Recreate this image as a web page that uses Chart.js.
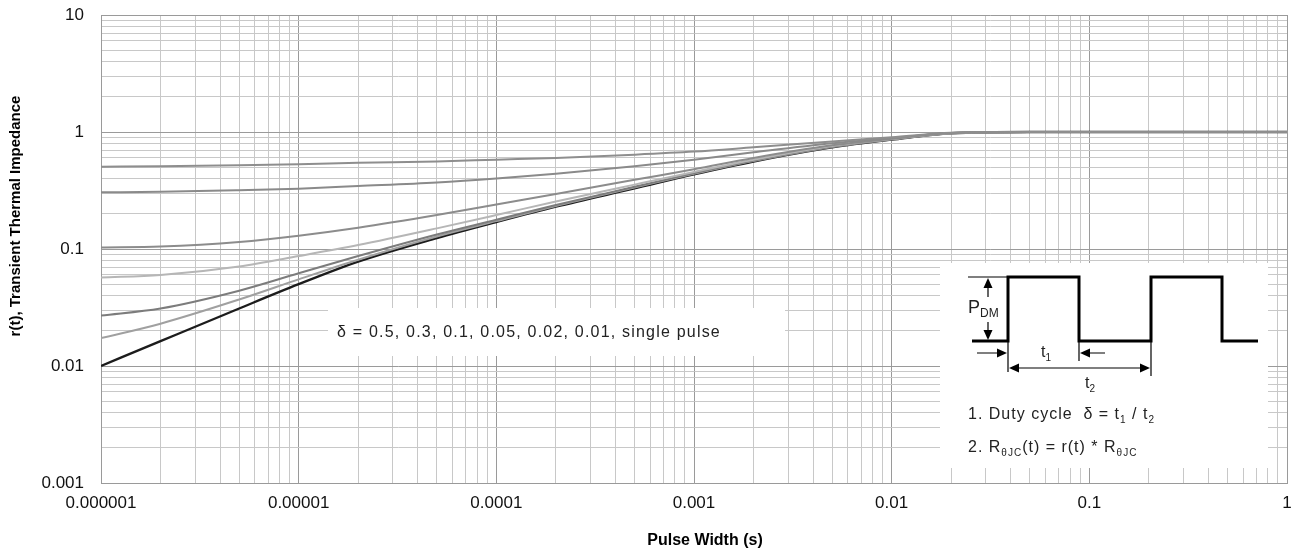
<!DOCTYPE html>
<html>
<head>
<meta charset="utf-8">
<script src="https://cdn.jsdelivr.net/npm/chart.js@4.4.1/dist/chart.umd.min.js"></script>
<style>
  html, body { margin: 0; padding: 0; background: #fff; }
  #wrap { width: 1298px; height: 554px; position: relative; }
</style>
</head>
<body>
<div id="wrap"><canvas id="zth"></canvas></div>
<script>
// Pulse width (s) sample points
const pulseWidth = [1e-6, 2e-6, 5e-6, 1e-5, 2e-5, 5e-5, 1e-4, 2e-4, 5e-4, 1e-3, 2e-3, 5e-3, 1e-2, 2e-2, 5e-2, 1e-1, 1];

// r(t) per duty cycle
const duty05   = [0.505, 0.51, 0.52, 0.53, 0.545, 0.56, 0.58, 0.60, 0.64, 0.68, 0.74, 0.83, 0.90, 0.985, 1, 1, 1];
const duty03   = [0.305, 0.308, 0.318, 0.328, 0.345, 0.37, 0.40, 0.44, 0.51, 0.58, 0.67, 0.80, 0.885, 0.982, 1, 1, 1];
const duty01   = [0.103, 0.105, 0.115, 0.13, 0.152, 0.195, 0.24, 0.295, 0.39, 0.48, 0.60, 0.77, 0.875, 0.98, 1, 1, 1];
const duty005  = [0.057, 0.06, 0.071, 0.087, 0.108, 0.15, 0.195, 0.255, 0.355, 0.455, 0.58, 0.76, 0.87, 0.978, 1, 1, 1];
const duty002  = [0.027, 0.031, 0.044, 0.062, 0.087, 0.133, 0.178, 0.238, 0.34, 0.445, 0.57, 0.75, 0.865, 0.977, 1, 1, 1];
const duty001  = [0.0173, 0.023, 0.037, 0.055, 0.081, 0.128, 0.173, 0.233, 0.335, 0.44, 0.565, 0.745, 0.865, 0.977, 1, 1, 1];
const single   = [0.01, 0.0163, 0.031, 0.05, 0.078, 0.124, 0.17, 0.23, 0.33, 0.435, 0.56, 0.74, 0.86, 0.975, 1, 1, 1];

// tick labels, one per decade
const xTickLabels = ['0.000001', '0.00001', '0.0001', '0.001', '0.01', '0.1', '1'];
const yTickLabels = ['0.001', '0.01', '0.1', '1', '10'];

const xTitle = 'Pulse Width (s)';
const yTitle = 'r(t), Transient Thermal Impedance';
const noteText = 'δ = 0.5, 0.3, 0.1, 0.05, 0.02, 0.01, single pulse';

const series = [
  { label: 'δ = 0.5', data: duty05, color: '#8e8e8e' },
  { label: 'δ = 0.3', data: duty03, color: '#8a8a8a' },
  { label: 'δ = 0.1', data: duty01, color: '#8c8c8c' },
  { label: 'δ = 0.05', data: duty005, color: '#b6b6b6' },
  { label: 'δ = 0.02', data: duty002, color: '#7c7c7c' },
  { label: 'δ = 0.01', data: duty001, color: '#a0a0a0' },
  { label: 'single pulse', data: single, color: '#1c1c1c' }
];

const FONT = '"Liberation Sans", Arial, sans-serif';

function isDecade(v) {
  const e = Math.log10(v);
  return Math.abs(e - Math.round(e)) < 1e-6;
}

// 1..9 per decade, for the grid
function decadeTicks(minExp, maxExp) {
  const out = [];
  for (let e = minExp; e < maxExp; e++) {
    for (let m = 1; m <= 9; m++) out.push({ value: m * Math.pow(10, e) });
  }
  out.push({ value: Math.pow(10, maxExp) });
  return out;
}

// text with subscripts: parts = [[text, isSub], ...]
function richText(ctx, parts, x, y, size) {
  let cx = x;
  parts.forEach(([txt, sub]) => {
    ctx.font = (sub ? Math.round(size * 0.65) : size) + 'px ' + FONT;
    ctx.fillText(txt, cx, sub ? y + size * 0.3 : y);
    cx += ctx.measureText(txt).width;
  });
}

function arrowHead(ctx, x, y, dir) {
  // tip at x,y
  const L = 10, W = 4.5;
  ctx.beginPath();
  ctx.moveTo(x, y);
  if (dir === 'up') { ctx.lineTo(x - W, y + L); ctx.lineTo(x + W, y + L); }
  if (dir === 'down') { ctx.lineTo(x - W, y - L); ctx.lineTo(x + W, y - L); }
  if (dir === 'left') { ctx.lineTo(x + L, y - W); ctx.lineTo(x + L, y + W); }
  if (dir === 'right') { ctx.lineTo(x - L, y - W); ctx.lineTo(x - L, y + W); }
  ctx.closePath();
  ctx.fill();
}

// white label boxes and the duty cycle inset
const noteBox = { x: 328, y: 308, w: 457, h: 48 };
const inset = { x: 940, y: 263, w: 328, h: 205 };

const overlay = {
  id: 'overlay',
  beforeDatasetsDraw(chart) {
    const ctx = chart.ctx;
    ctx.save();
    ctx.fillStyle = '#fff';
    ctx.fillRect(noteBox.x, noteBox.y, noteBox.w, noteBox.h);
    ctx.fillRect(inset.x, inset.y, inset.w, inset.h);
    ctx.restore();
  },
  afterDraw(chart) {
    const ctx = chart.ctx;
    ctx.save();
    ctx.fillStyle = '#222';
    ctx.textBaseline = 'middle';
    ctx.textAlign = 'left';

    // curve note
    ctx.font = '16px ' + FONT;
    ctx.letterSpacing = '1.2px';
    ctx.fillText(noteText, 337, 333);

    // axis titles
    ctx.letterSpacing = '0px';
    ctx.fillStyle = '#000';
    ctx.font = 'bold 16px ' + FONT;
    ctx.textAlign = 'center';
    ctx.fillText(xTitle, 705, 541);
    ctx.save();
    ctx.translate(16, 216);
    ctx.rotate(-Math.PI / 2);
    ctx.font = 'bold 15px ' + FONT;
    ctx.fillText(yTitle, 0, 0);
    ctx.restore();

    // inset waveform
    const ox = inset.x, oy = 264;
    const low = oy + 77, high = oy + 13;
    ctx.strokeStyle = '#000';
    ctx.fillStyle = '#000';
    ctx.lineWidth = 3;
    ctx.lineJoin = 'miter';
    ctx.beginPath();
    ctx.moveTo(ox + 32, low);
    ctx.lineTo(ox + 68, low);
    ctx.lineTo(ox + 68, high);
    ctx.lineTo(ox + 139, high);
    ctx.lineTo(ox + 139, low);
    ctx.lineTo(ox + 211, low);
    ctx.lineTo(ox + 211, high);
    ctx.lineTo(ox + 282, high);
    ctx.lineTo(ox + 282, low);
    ctx.lineTo(ox + 318, low);
    ctx.stroke();

    ctx.lineWidth = 1.2;
    ctx.beginPath();
    ctx.moveTo(ox + 28, high); ctx.lineTo(ox + 68, high);
    // P_DM arrow shafts
    ctx.moveTo(ox + 48, high + 8); ctx.lineTo(ox + 48, oy + 33);
    ctx.moveTo(ox + 48, oy + 58); ctx.lineTo(ox + 48, low - 8);
    // extension lines
    ctx.moveTo(ox + 68, low); ctx.lineTo(ox + 68, oy + 108);
    ctx.moveTo(ox + 139, low); ctx.lineTo(ox + 139, oy + 97);
    ctx.moveTo(ox + 211, low); ctx.lineTo(ox + 211, oy + 112);
    // t1 arrows
    ctx.moveTo(ox + 37, oy + 89); ctx.lineTo(ox + 60, oy + 89);
    ctx.moveTo(ox + 147, oy + 89); ctx.lineTo(ox + 165, oy + 89);
    // t2 arrow
    ctx.moveTo(ox + 76, oy + 104); ctx.lineTo(ox + 203, oy + 104);
    ctx.stroke();
    arrowHead(ctx, ox + 48, high + 1, 'up');
    arrowHead(ctx, ox + 48, low - 1, 'down');
    arrowHead(ctx, ox + 67, oy + 89, 'right');
    arrowHead(ctx, ox + 140, oy + 89, 'left');
    arrowHead(ctx, ox + 69, oy + 104, 'left');
    arrowHead(ctx, ox + 210, oy + 104, 'right');

    ctx.fillStyle = '#222';
    ctx.textAlign = 'left';
    ctx.letterSpacing = '0px';
    richText(ctx, [['P', false], ['DM', true]], ox + 28, oy + 44, 18);
    richText(ctx, [['t', false], ['1', true]], ox + 101, oy + 89, 16);
    richText(ctx, [['t', false], ['2', true]], ox + 145, oy + 120, 16);

    ctx.letterSpacing = '1px';
    richText(ctx, [['1. Duty cycle  δ = t', false], ['1', true], [' / t', false], ['2', true]], ox + 28, oy + 151, 16);
    richText(ctx, [['2. R', false], ['θJC', true], ['(t) = r(t) * R', false], ['θJC', true]], ox + 28, oy + 184, 16);
    ctx.restore();
  }
};

const datasets = series.map(s => ({
  label: s.label,
  data: pulseWidth.map((x, i) => ({ x: x, y: s.data[i] })),
  borderColor: s.color,
  backgroundColor: s.color,
  borderWidth: s.label === 'single pulse' ? 2.4 : 2,
  pointRadius: 0,
  cubicInterpolationMode: 'monotone',
  fill: false
}));

const gridColor = (c) => (c.tick && isDecade(c.tick.value)) ? '#9a9a9a' : '#c8c8c8';

new Chart(document.getElementById('zth'), {
  type: 'line',
  data: { datasets: datasets },
  options: {
    responsive: true,
    maintainAspectRatio: false,
    animation: false,
    layout: { padding: { left: 0, right: 11, top: 15, bottom: 0 } },
    plugins: { legend: { display: false }, tooltip: { enabled: false } },
    scales: {
      x: {
        type: 'logarithmic',
        min: 1e-6,
        max: 1,
        afterBuildTicks: (scale) => { scale.ticks = decadeTicks(-6, 0); },
        afterFit: (scale) => {
          scale.height = 71;
          scale.paddingLeft = 0;
          scale.paddingRight = 0;
        },
        grid: { color: gridColor, lineWidth: 1, drawTicks: false },
        border: { color: '#9a9a9a' },
        ticks: {
          autoSkip: false,
          maxRotation: 0,
          padding: 10,
          color: '#111',
          font: { family: FONT, size: 17 },
          callback: (v) => isDecade(v) ? xTickLabels[Math.round(Math.log10(v)) + 6] : ''
        }
      },
      y: {
        type: 'logarithmic',
        min: 0.001,
        max: 10,
        afterBuildTicks: (scale) => { scale.ticks = decadeTicks(-3, 1); },
        afterFit: (scale) => {
          scale.width = 101;
          scale.paddingTop = 0;
          scale.paddingBottom = 0;
        },
        grid: { color: gridColor, lineWidth: 1, drawTicks: false },
        border: { color: '#9a9a9a' },
        ticks: {
          autoSkip: false,
          padding: 17,
          color: '#111',
          font: { family: FONT, size: 17 },
          callback: (v) => isDecade(v) ? yTickLabels[Math.round(Math.log10(v)) + 3] : ''
        }
      }
    }
  },
  plugins: [overlay]
});
</script>
</body>
</html>
